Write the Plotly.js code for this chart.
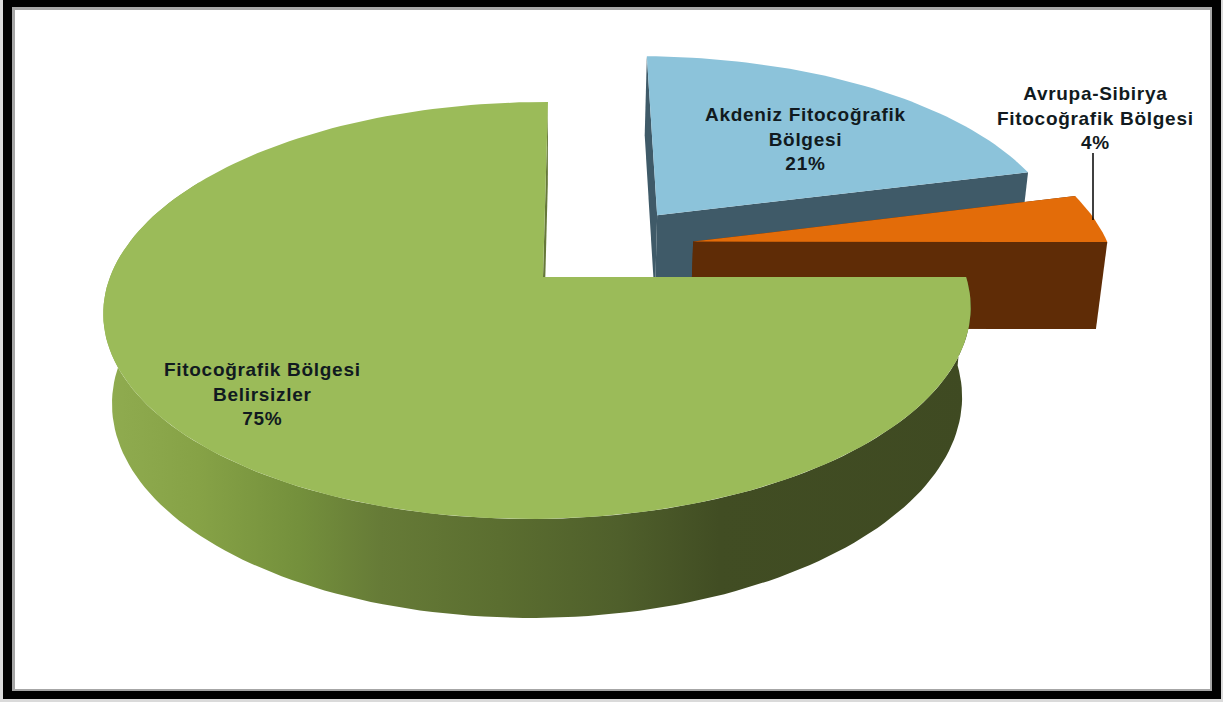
<!DOCTYPE html>
<html>
<head>
<meta charset="utf-8">
<script src="https://cdn.plot.ly/plotly-3.0.1.min.js"></script>
<style>
  html, body { margin: 0; padding: 0; background: #fff; }
  #chart { width: 1223px; height: 702px; }
  .annotation-text { letter-spacing: 0.7px; }
</style>
</head>
<body>
<div id="chart"></div>
<script>
// Floristic-region shares of the taxa
const categories = [
  "Fitocoğrafik Bölgesi<br>Belirsizler",
  "Akdeniz Fitocoğrafik<br>Bölgesi",
  "Avrupa-Sibirya<br>Fitocoğrafik Bölgesi"
];
const values = [75, 21, 4];

const topColors = ["#9BBB59", "#8CC3DA", "#E36C09"];
const faceColors = ["#66783A", "#3F5A68", "#5F2C06"];
const sideStops = [
  [0, "#90AC50"], [0.11, "#86A246"], [0.225, "#74903C"], [0.32, "#667B37"],
  [0.456, "#5B6E30"], [0.595, "#4F5F2B"], [0.71, "#414D23"], [1, "#3F4A22"]
];

// Slice explosion on the disc plane (unit radius) and per-slice radius
const pulls = [[0, 0], [0.277, -0.321], [0.36, -0.18]];
const radii = [1, 1, 1.015];

// Perspective of the disc plane
const view = { ox: 543, oy: 277, A: 203.1, B: 428, C: -5.8, k: -0.1607, m: 0.0115 };
const bottom = { sx: 0.98, cx: 540, sy: 1.043, ty: 76.6 };

function projectTop(u, v) {
  const w = 1 + view.k * v + view.m * u;
  return [view.ox + (view.B * u + view.C * v) / w, view.oy + (view.A * v) / w];
}
function toBottom(p) {
  return [bottom.cx + (p[0] - bottom.cx) * bottom.sx, p[1] * bottom.sy + bottom.ty];
}
// Angle is clockwise from twelve o'clock, in degrees
function rim(angle, i) {
  const a = angle * Math.PI / 180;
  return projectTop(pulls[i][0] + radii[i] * Math.sin(a), pulls[i][1] - radii[i] * Math.cos(a));
}
function arc(from, to, i) {
  const pts = [];
  const n = Math.max(4, Math.ceil(Math.abs(to - from) / 1.5));
  for (let j = 0; j <= n; j++) pts.push(rim(from + (to - from) * j / n, i));
  return pts;
}
function poly(pts, color, gradient) {
  const t = {
    type: "scatter", mode: "lines", fill: "toself", hoverinfo: "skip",
    x: pts.map(p => p[0]), y: pts.map(p => p[1]),
    line: { width: 0 }, showlegend: false
  };
  if (gradient) t.fillgradient = { type: "horizontal", colorscale: gradient };
  else t.fillcolor = color;
  return t;
}
function quad(a, b) {
  return [a, b, toBottom(b), toBottom(a)];
}

// Slice angles: the large slice starts at three o'clock and runs clockwise
const total = values.reduce((s, v) => s + v, 0);
const spans = [];
let angle = 90;
values.forEach(v => {
  const end = angle + v / total * 360;
  spans.push([angle, end]);
  angle = end;
});

const traces = [];

// Blue slice, then the orange one in front of it
[1, 2].forEach(i => {
  const [a0, a1] = spans[i];
  const apex = projectTop(pulls[i][0], pulls[i][1]);
  traces.push(poly(quad(rim(a0, i), apex), faceColors[i]));
  traces.push(poly(quad(apex, rim(a1, i)), faceColors[i]));
  traces.push(poly([apex].concat(arc(a0, a1, i)), topColors[i]));
});

// Large slice: inner face, curved wall, top
{
  const [a0, a1] = spans[0];
  const apex = projectTop(0, 0);
  traces.push(poly(quad(apex, rim(a1, 0)), faceColors[0]));
  const wallTop = arc(a0, 300, 0);
  const wallBottom = wallTop.map(toBottom).reverse();
  traces.push(poly(wallTop.concat(wallBottom), null, sideStops));
  traces.push(poly([apex].concat(arc(a0, a1, 0)), topColors[0]));
}

// Leader line of the smallest slice
const leaderX = [1093, 1093];
const leaderY = [153, 220];
traces.push({
  type: "scatter", mode: "lines", x: leaderX, y: leaderY, hoverinfo: "skip",
  line: { color: "#000", width: 1.5 }, showlegend: false
});

const labelPos = [[262, 394], [805, 138.5], [1095, 118]];
const annotations = categories.map((c, i) => ({
  x: labelPos[i][0], y: labelPos[i][1], xref: "x", yref: "y",
  text: c + "<br>" + values[i] + "%", showarrow: false,
  align: "center", xanchor: "center", yanchor: "middle",
  font: { family: "Liberation Sans, Arial, sans-serif", size: 19, color: "#111A20", weight: 700 }
}));

const layout = {
  width: 1223, height: 702,
  margin: { l: 0, r: 0, t: 0, b: 0 },
  paper_bgcolor: "#DADADA", plot_bgcolor: "rgba(0,0,0,0)",
  showlegend: false,
  xaxis: { range: [0, 1223], visible: false, fixedrange: true },
  yaxis: { range: [702, 0], visible: false, fixedrange: true },
  annotations,
  shapes: [
    { type: "rect", layer: "below", xref: "x", yref: "y", x0: 3, x1: 1221, y0: -2, y1: 699, fillcolor: "#000", line: { width: 0 } },
    { type: "rect", layer: "below", xref: "x", yref: "y", x0: 12, x1: 1212, y0: 7, y1: 691, fillcolor: "#A6A6A6", line: { width: 0 } },
    { type: "rect", layer: "below", xref: "x", yref: "y", x0: 15, x1: 1210, y0: 10, y1: 689, fillcolor: "#FFFFFF", line: { width: 0 } }
  ]
};

Plotly.newPlot("chart", traces, layout, { displayModeBar: false, staticPlot: true });
</script>
</body>
</html>
